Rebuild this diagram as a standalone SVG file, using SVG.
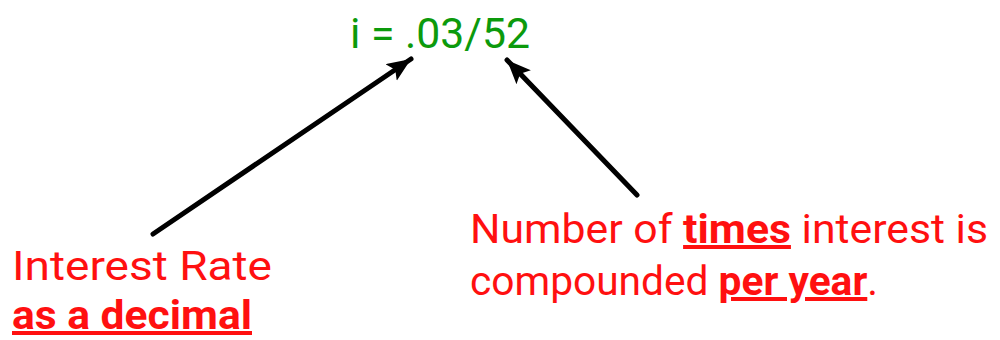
<svg xmlns="http://www.w3.org/2000/svg" width="1000" height="340" viewBox="0 0 1000 340">
<style>
.f{font-family:Roboto,"DejaVu Sans",sans-serif;}
.g{fill:#0c9a0c;font-size:42px;}
.r{fill:#ff1010;font-size:40px;}
.b{font-weight:bold;text-decoration:underline;}
.c{stroke:#000;stroke-width:5;fill:none;stroke-linecap:round;}
</style>
<defs>
<marker id="ah" markerUnits="userSpaceOnUse" markerWidth="26" markerHeight="22" refX="24" refY="10" orient="auto">
<path d="M0,0 L24,10 L0,20 L5,10 Z" fill="#000"/>
</marker>
</defs>
<g id="formula">
<text class="f g" x="350" y="48" textLength="180" lengthAdjust="spacingAndGlyphs">i = .03/52</text>
</g>
<g id="connectors">
<line class="c" x1="153" y1="234" x2="411" y2="59" marker-end="url(#ah)"/>
<line class="c" x1="637" y1="195" x2="507" y2="60" marker-end="url(#ah)"/>
</g>
<g id="rate-label">
<text class="f r" x="12" y="280" textLength="260" lengthAdjust="spacingAndGlyphs">Interest Rate</text>
<text class="f r b" x="12" y="329" textLength="240" lengthAdjust="spacingAndGlyphs">as a decimal</text>
</g>
<g id="periods-label">
<text class="f r" x="470" y="243" textLength="518" lengthAdjust="spacingAndGlyphs">Number of <tspan class="b">times</tspan> interest is</text>
<text class="f r" x="470" y="295" textLength="408" lengthAdjust="spacingAndGlyphs">compounded <tspan class="b">per year</tspan>.</text>
</g>
</svg>
